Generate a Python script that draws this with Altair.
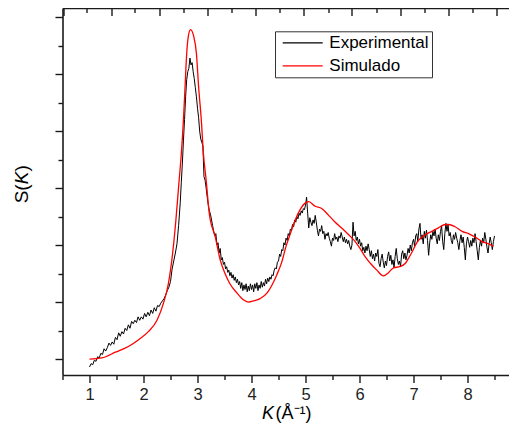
import altair as alt
import pandas as pd

# ---------------- data ----------------
exp_k = [1.00, 1.03, 1.06, 1.09, 1.12, 1.15, 1.18, 1.21, 1.24, 1.27,
         1.30, 1.33, 1.36, 1.39, 1.42, 1.45, 1.48, 1.51, 1.54, 1.57,
         1.60, 1.63, 1.66, 1.69, 1.72, 1.75, 1.78, 1.81, 1.84, 1.87,
         1.90, 1.93, 1.96, 1.99, 2.02, 2.05, 2.08, 2.11, 2.14, 2.17,
         2.20, 2.23, 2.26, 2.29, 2.32, 2.35, 2.38, 2.41, 2.44, 2.47,
         2.50, 2.53, 2.56, 2.59, 2.62, 2.65, 2.68, 2.70, 2.72, 2.74,
         2.76, 2.78, 2.80, 2.82, 2.84, 2.86, 2.88, 2.90, 2.92, 2.94,
         2.96, 2.98, 3.00, 3.02, 3.04, 3.06, 3.08, 3.10, 3.12, 3.14,
         3.16, 3.18, 3.20, 3.22, 3.24, 3.26, 3.28, 3.30,
         3.32, 3.34, 3.36, 3.38, 3.40, 3.42, 3.44, 3.46, 3.48, 3.50,
         3.52, 3.54, 3.56, 3.58, 3.60, 3.62, 3.64, 3.66, 3.68, 3.70,
         3.72, 3.74, 3.76, 3.78, 3.80, 3.82, 3.84, 3.86, 3.88, 3.90,
         3.92, 3.94, 3.96, 3.98, 4.00, 4.02, 4.04, 4.06, 4.08, 4.10,
         4.12, 4.14, 4.16, 4.18, 4.20, 4.22, 4.24, 4.26, 4.28, 4.30,
         4.32, 4.34, 4.36, 4.38, 4.40, 4.42, 4.44, 4.46, 4.48, 4.50,
         4.52, 4.54, 4.56, 4.58, 4.60, 4.62, 4.64, 4.66, 4.68, 4.70,
         4.72, 4.74, 4.76, 4.78, 4.80, 4.82, 4.84, 4.86, 4.88, 4.90,
         4.92, 4.94, 4.96, 4.98, 5.00, 5.02, 5.04, 5.06, 5.08, 5.10,
         5.12, 5.14, 5.16, 5.18, 5.20, 5.22, 5.24, 5.26, 5.28, 5.30,
         5.32, 5.34, 5.36, 5.38, 5.40, 5.42, 5.44, 5.46, 5.48, 5.50,
         5.52, 5.54, 5.56, 5.58, 5.60, 5.62, 5.64, 5.66, 5.68, 5.70,
         5.72, 5.74, 5.76, 5.78, 5.80, 5.82, 5.84, 5.86, 5.88, 5.90,
         5.92, 5.94, 5.96, 5.98, 6.00, 6.02, 6.04, 6.06, 6.08, 6.10,
         6.12, 6.14, 6.16, 6.18, 6.20, 6.22, 6.24, 6.26, 6.28, 6.30,
         6.32, 6.34, 6.36, 6.38, 6.40, 6.42, 6.44, 6.46, 6.48, 6.50,
         6.52, 6.54, 6.56, 6.58, 6.60, 6.62, 6.64, 6.66, 6.68, 6.70,
         6.72, 6.74, 6.76, 6.78, 6.80, 6.82, 6.84, 6.86, 6.88, 6.90,
         6.92, 6.94, 6.96, 6.98, 7.00, 7.02, 7.04, 7.06, 7.08, 7.10,
         7.12, 7.14, 7.16, 7.18, 7.20, 7.22, 7.24, 7.26, 7.28, 7.30,
         7.32, 7.34, 7.36, 7.38, 7.40, 7.42, 7.44, 7.46, 7.48, 7.50,
         7.52, 7.54, 7.56, 7.58, 7.60, 7.62, 7.64, 7.66, 7.68, 7.70,
         7.72, 7.74, 7.76, 7.78, 7.80, 7.82, 7.84, 7.86, 7.88, 7.90,
         7.92, 7.94, 7.96, 7.98, 8.00, 8.02, 8.04, 8.06, 8.08, 8.10,
         8.12, 8.14, 8.16, 8.18, 8.20, 8.22, 8.24, 8.26, 8.28, 8.30,
         8.32, 8.34, 8.36, 8.38, 8.40, 8.42, 8.44, 8.46, 8.48, 8.50]

exp_s = [-0.07, -0.04, -0.05, -0.01, -0.02, 0.02, 0.01, 0.05, 0.04, 0.09,
         0.07, 0.10, 0.14, 0.12, 0.15, 0.13, 0.19, 0.17, 0.23, 0.20,
         0.24, 0.22, 0.27, 0.25, 0.30, 0.27, 0.33, 0.31, 0.34, 0.32,
         0.37, 0.34, 0.37, 0.35, 0.40, 0.37, 0.41, 0.38, 0.43, 0.40,
         0.45, 0.42, 0.47, 0.46, 0.49, 0.51, 0.53, 0.56, 0.60, 0.63,
         0.68, 0.79, 0.86, 0.93, 1.01, 1.17, 1.37, 1.55, 1.72, 1.92,
         2.10, 2.30, 2.45, 2.52, 2.55, 2.64, 2.58, 2.60, 2.52, 2.46,
         2.38, 2.30, 2.20, 2.12, 2.00, 1.93, 1.90, 1.87, 1.60, 1.57,
         1.50, 1.42, 1.35, 1.30, 1.27, 1.22, 1.17, 1.12,
         1.08, 1.10, 1.00, 1.02, 0.93, 0.97, 0.87, 0.89, 0.83, 0.85,
         0.79, 0.81, 0.76, 0.78, 0.73, 0.76, 0.71, 0.74, 0.69, 0.72,
         0.67, 0.70, 0.65, 0.68, 0.62, 0.67, 0.60, 0.65, 0.61, 0.66,
         0.59, 0.64, 0.60, 0.66, 0.61, 0.65, 0.59, 0.66, 0.62, 0.67,
         0.60, 0.65, 0.62, 0.68, 0.63, 0.67, 0.64, 0.70, 0.66, 0.71,
         0.68, 0.72, 0.70, 0.74, 0.73, 0.78, 0.80, 0.79, 0.85, 0.86,
         0.92, 0.90, 0.96, 0.95, 1.02, 1.00, 1.06, 1.04, 1.10, 1.08,
         1.14, 1.13, 1.18, 1.16, 1.22, 1.20, 1.25, 1.23, 1.28, 1.26,
         1.30, 1.28, 1.32, 1.31, 1.35, 1.42, 1.28, 1.15, 1.24, 1.20,
         1.17, 1.22, 1.19, 1.26, 1.20, 1.13, 1.08, 1.14, 1.12, 1.17,
         1.10, 1.12, 1.05, 1.10, 1.08, 1.11, 1.06, 1.03, 0.99, 1.06,
         1.04, 1.10, 1.05, 1.07, 1.03, 1.08, 1.06, 1.11, 1.07, 1.03,
         1.07, 1.02, 1.05, 1.01, 1.04, 0.99, 0.96, 1.00, 1.20, 1.08,
         1.12, 1.04, 1.07, 1.01, 1.05, 0.99, 1.02, 0.95, 0.98, 0.93,
         0.99, 0.95, 1.01, 0.96, 0.90, 0.95, 0.88, 0.92, 0.86, 0.93,
         0.90, 0.96, 0.84, 0.81, 0.88, 0.92, 0.85, 0.80, 0.86, 0.82,
         0.90, 0.94, 0.86, 0.91, 0.83, 0.87, 0.80, 0.90, 0.97, 0.88,
         0.83, 0.86, 0.81, 0.92, 0.95, 0.88, 0.93, 0.87, 0.91, 0.97,
         0.93, 1.00, 0.95, 1.02, 1.05, 0.99, 1.08, 1.10, 1.03, 1.14,
         1.19, 1.05, 1.09, 1.01, 1.12, 1.06, 1.13, 1.04, 0.91, 1.02,
         1.09, 1.05, 1.12, 1.08, 1.14, 1.06, 1.01, 1.09, 1.04, 1.12,
         1.17, 1.03, 0.96, 1.10, 1.19, 1.12, 1.18, 1.08, 1.11, 1.04,
         1.01, 1.09, 1.05, 1.11, 1.06, 1.02, 0.96, 1.04, 1.09, 1.02,
         1.07, 0.98, 0.87, 1.01, 1.07, 1.03, 0.98, 1.04, 0.99, 1.06,
         1.02, 1.10, 1.03, 0.95, 0.87, 0.98, 1.04, 0.99, 1.06, 1.02,
         1.11, 1.05, 0.98, 0.93, 1.01, 1.07, 1.02, 0.96, 1.03, 1.08]

sim_k = [1.00, 1.23, 1.48, 1.72, 1.91, 2.09, 2.25, 2.37, 2.46, 2.54,
         2.60, 2.65, 2.70, 2.74, 2.77, 2.80, 2.83, 2.87, 2.93, 2.98,
         3.02, 3.07, 3.11, 3.16, 3.22, 3.33, 3.42, 3.51, 3.60, 3.73,
         3.85, 3.94, 4.04, 4.16, 4.29, 4.38, 4.47, 4.56, 4.64, 4.72,
         4.81, 4.90, 5.00, 5.06, 5.18, 5.30, 5.43, 5.55, 5.67, 5.80,
         5.92, 6.01, 6.10, 6.20, 6.32, 6.44, 6.54, 6.63, 6.75, 6.85,
         6.94, 7.09, 7.22, 7.34, 7.46, 7.59, 7.65, 7.77, 7.90, 8.02,
         8.14, 8.27, 8.39, 8.48]

sim_s = [0.00, 0.01, 0.06, 0.11, 0.17, 0.24, 0.34, 0.49, 0.66, 0.93,
         1.22, 1.51, 1.80, 2.10, 2.39, 2.68, 2.83, 2.89, 2.83, 2.68,
         2.39, 2.10, 1.80, 1.57, 1.27, 1.07, 0.87, 0.75, 0.66, 0.58,
         0.52, 0.50, 0.51, 0.53, 0.58, 0.65, 0.74, 0.85, 0.99, 1.10,
         1.22, 1.31, 1.37, 1.38, 1.34, 1.32, 1.26, 1.20, 1.15, 1.09,
         1.03, 0.97, 0.90, 0.84, 0.78, 0.73, 0.76, 0.80, 0.81, 0.84,
         0.91, 1.04, 1.09, 1.12, 1.15, 1.18, 1.18, 1.16, 1.12, 1.10,
         1.07, 1.03, 1.01, 0.99]

series_names = ["Experimental", "Simulado"]
series_colors = ["#000000", "#ff0000"]

x_ticks = [0.5, 1, 1.5, 2, 2.5, 3, 3.5, 4, 4.5, 5, 5.5, 6, 6.5, 7, 7.5, 8, 8.5]
y_ticks = [0, 0.25, 0.5, 0.75, 1.0, 1.25, 1.5, 1.75, 2.0, 2.25, 2.5, 2.75, 3.0]
top_major = [0.51, 1.40, 2.29, 3.18, 4.08, 4.97, 5.86, 6.75, 7.65, 8.54]
top_minor = [0.95, 1.84, 2.74, 3.63, 4.52, 5.42, 6.31, 7.20, 8.09]

assert len(exp_k) == len(exp_s)
assert len(sim_k) == len(sim_s)

exp_df = pd.DataFrame({"K": exp_k, "S": exp_s, "series": series_names[0]})
sim_df = pd.DataFrame({"K": sim_k, "S": sim_s, "series": series_names[1]})

# ---------------- layout ----------------
OX, OY = 62.5, 8.0          # plot origin on the page
W, H = 446.5, 367           # keeps the page inside the 517x432 window
PX_PER_K = 54.0
x_dom = [0.5, 0.5 + W / PX_PER_K]
y_dom = [-0.140, 3.079]
AX = "#1a1a1a"
FONT = "Liberation Sans"

common = dict(domainColor=AX, domainWidth=1.6, tickColor=AX, tickWidth=1.4, grid=False)

x_bottom_axis = alt.Axis(
    orient="bottom", values=x_ticks, title=None,
    labelExpr="datum.value % 1 === 0 ? format(datum.value, 'd') : ''",
    tickSize={"condition": {"test": "datum.value % 1 === 0", "value": 7.5}, "value": 4.5},
    labelFont=FONT, labelFontSize=16.5, labelColor="#222", labelPadding=3.5,
    labelFlush=False, labelOverlap=False, **common)

top_test = "indexof([" + ",".join(str(v) for v in top_major) + "], datum.value) >= 0"
x_top_axis = alt.Axis(
    orient="bottom", offset=-H, values=sorted(top_major + top_minor), title=None,
    labels=False,
    tickSize={"condition": {"test": top_test, "value": 7.5}, "value": 4.5},
    **common)

y_axis = alt.Axis(
    orient="left", values=y_ticks, title=None, labels=False,
    tickSize={"condition": {"test": "(datum.value * 4) % 2 === 0", "value": 7.5}, "value": 4.5},
    **common)

color = alt.Color(
    "series:N",
    scale=alt.Scale(domain=series_names, range=series_colors),
    legend=alt.Legend(
        title=None, orient="none", legendX=275 - OX, legendY=31.3 - OY, direction="vertical",
        symbolType="stroke", symbolSize=1600, symbolStrokeWidth=1.2, symbolOffset=3.7,
        clipHeight=17, labelFont=FONT, labelFontSize=17, labelColor="#000", labelLimit=0,
        labelOffset=5.6, strokeColor="#333", fillColor="white",
        padding=3, rowPadding=5))

exp_line = alt.Chart(exp_df).mark_line(strokeWidth=1.0).encode(
    x=alt.X("K:Q", scale=alt.Scale(domain=x_dom, nice=False, zero=False), axis=x_bottom_axis),
    y=alt.Y("S:Q", scale=alt.Scale(domain=y_dom, nice=False, zero=False), axis=y_axis),
    color=color,
    order=alt.Order("K:Q"),
)

sim_line = alt.Chart(sim_df).mark_line(strokeWidth=1.3, interpolate="monotone").encode(
    x=alt.X("K:Q", scale=alt.Scale(domain=x_dom, nice=False, zero=False), axis=x_top_axis),
    y=alt.Y("S:Q", scale=alt.Scale(domain=y_dom, nice=False, zero=False), axis=y_axis),
    color=color,
    order=alt.Order("K:Q"),
)


def txt(text, px, py, size, style="normal", angle=0):
    return alt.Chart(alt.Data(values=[{"t": text}])).mark_text(
        font=FONT, fontSize=size, fontStyle=style, angle=angle,
        align="left", baseline="alphabetic", color="#000"
    ).encode(x=alt.value(px - OX), y=alt.value(py - OY), text="t:N")


titles = [
    txt("K", 262, 418.5, 18, "italic"),
    txt("(Å⁻¹)", 275.5, 418.5, 18),
    txt("S(", 27.5, 203.3, 19, angle=270),
    txt("K", 27.5, 184.3, 19, "italic", angle=270),
    txt(")", 27.5, 171.6, 19, angle=270),
]

chart = alt.layer(exp_line, sim_line, *titles).resolve_axis(x="independent").properties(
    width=W, height=H,
    autosize=alt.AutoSizeParams(type="none"),
    padding={"left": OX - 8, "top": 0, "right": 0, "bottom": 48},
    background="white",
).configure_view(stroke=None)

chart.save("out.html", embed_options={"renderer": "svg", "actions": False})
